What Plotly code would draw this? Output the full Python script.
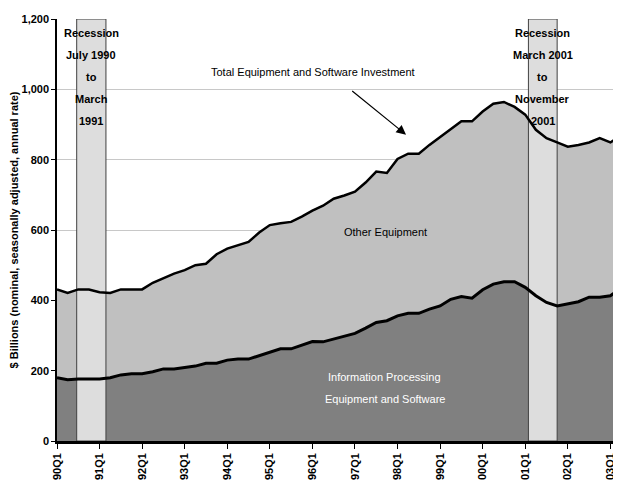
import plotly.graph_objects as go

# quarterly index 0 = 1990Q1
quarters = list(range(54))

total_invest = [431, 421, 431, 431, 423, 421, 431, 431, 431, 450,
                464, 476, 486, 500, 504, 531, 547, 557, 566, 593,
                614, 619, 623, 638, 655, 669, 689, 698, 709, 735,
                766, 762, 802, 817, 817, 842, 864, 885, 909, 909,
                937, 959, 964, 950, 928, 885, 861, 849, 837, 842,
                849, 861, 849, 868]

info_proc = [180, 174, 176, 176, 176, 180, 188, 191, 191, 197,
             205, 205, 210, 213, 221, 221, 230, 233, 233, 243,
             252, 262, 262, 273, 283, 282, 290, 296, 306, 321,
             337, 342, 356, 363, 363, 375, 384, 403, 411, 406,
             430, 446, 453, 453, 437, 413, 394, 384, 390, 396,
             409, 409, 413, 435]

tick_pos = list(range(0, 54, 4))
tick_labels = ["90Q1", "91Q1", "92Q1", "93Q1", "94Q1", "95Q1", "96Q1",
               "97Q1", "98Q1", "99Q1", "00Q1", "01Q1", "02Q1", "03Q1"]

recessions = [(1.85, 4.6), (44.3, 47.0)]
recession_text = [["Recession", "July 1990", "to", "March", "1991"],
                  ["Recession", "March 2001", "to", "November", "2001"]]

FONT = "Liberation Sans, Arial"

fig = go.Figure()

# filled areas (no lines yet)
fig.add_trace(go.Scatter(x=quarters, y=info_proc, mode="lines", fill="tozeroy",
                         fillcolor="#808080", line=dict(width=0), showlegend=False))
fig.add_trace(go.Scatter(x=quarters, y=total_invest, mode="lines", fill="tonexty",
                         fillcolor="#C0C0C0", line=dict(width=0), showlegend=False))

# recession bands sit above the fills but under the lines
for x0, x1 in recessions:
    fig.add_trace(go.Scatter(x=[x0, x1, x1, x0, x0], y=[0, 0, 1200, 1200, 0],
                             mode="lines", fill="toself", fillcolor="#DDDDDD",
                             line=dict(color="#404040", width=1), showlegend=False))

fig.add_trace(go.Scatter(x=quarters, y=info_proc, mode="lines",
                         line=dict(color="black", width=3), showlegend=False))
fig.add_trace(go.Scatter(x=quarters, y=total_invest, mode="lines",
                         line=dict(color="black", width=2.5), showlegend=False))

# recession labels
for (x0, x1), lines in zip(recessions, recession_text):
    for i, txt in enumerate(lines):
        fig.add_annotation(x=(x0 + x1) / 2, y=1161 - i * 62.5, text="<b>" + txt + "</b>",
                           showarrow=False, font=dict(family=FONT, size=11, color="black"))

fig.add_annotation(x=24.1, y=1050, text="Total Equipment and Software Investment",
                   showarrow=False, font=dict(family=FONT, size=11, color="black"))
fig.add_annotation(x=32.8, y=871, ax=27.6, ay=999, axref="x", ayref="y",
                   text="", showarrow=True, arrowhead=2, arrowsize=1.6,
                   arrowwidth=1.2, arrowcolor="black")
fig.add_annotation(x=30.9, y=595, text="Other Equipment",
                   showarrow=False, font=dict(family=FONT, size=11, color="black"))
fig.add_annotation(x=30.8, y=182, text="Information Processing",
                   showarrow=False, font=dict(family=FONT, size=11, color="white"))
fig.add_annotation(x=30.8, y=120, text="Equipment and Software",
                   showarrow=False, font=dict(family=FONT, size=11, color="white"))

# page body adds an 8px offset, so the figure is sized 8px smaller
fig.update_layout(
    width=613, height=481,
    margin=dict(l=49, r=0, t=11, b=48),
    plot_bgcolor="white", paper_bgcolor="white",
    font=dict(family=FONT, size=11, color="black"),
    xaxis=dict(range=[0, 53], tickvals=tick_pos,
               ticktext=["<b>" + t + "</b>" for t in tick_labels],
               tickangle=-90, ticks="outside", ticklen=5, tickcolor="black",
               showline=True, linecolor="black", linewidth=2.5,
               showgrid=False, zeroline=False),
    yaxis=dict(range=[0, 1200], tickvals=[0, 200, 400, 600, 800, 1000, 1200],
               ticktext=["<b>0</b>", "<b>200</b>", "<b>400</b>", "<b>600</b>",
                         "<b>800</b>", "<b>1,000</b>", "<b>1,200</b>"],
               ticks="outside", ticklen=4, tickcolor="black",
               showline=True, linecolor="black", linewidth=1.5,
               showgrid=True, gridcolor="#C8C8C8", gridwidth=1, zeroline=False,
               title=dict(text="<b>$ Billions (nominal, seasonally adjusted, annual rate)</b>",
                          font=dict(size=11), standoff=6)),
)

fig.write_html("out.html")
